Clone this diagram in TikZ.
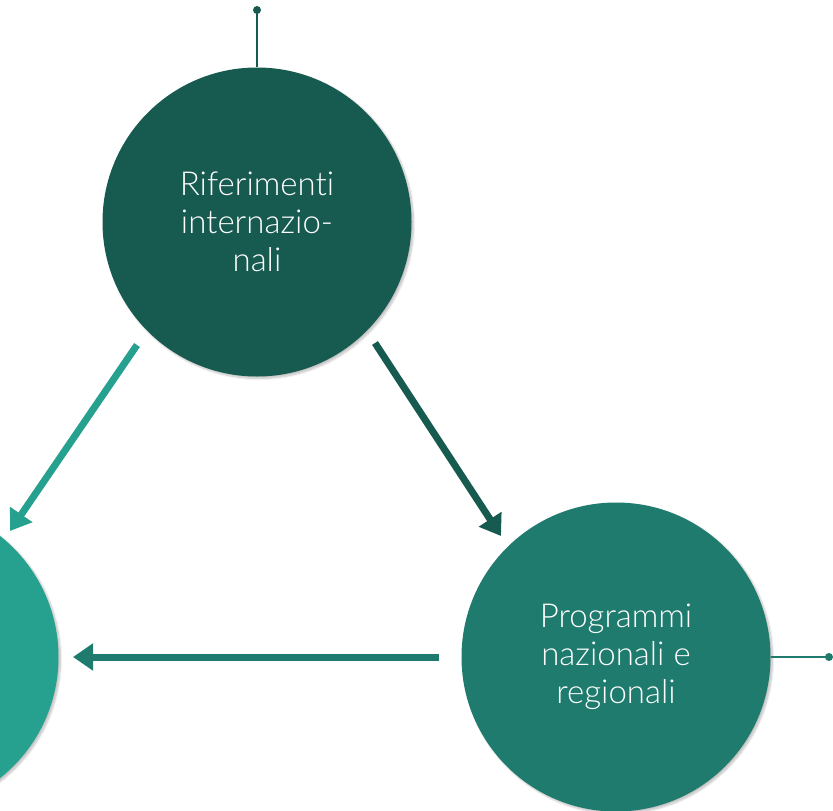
\documentclass[tikz,border=0pt]{standalone}
\usepackage{fontspec}
\setmainfont{Lato}[UprightFont=* Light, Ligatures=NoCommon]
\usetikzlibrary{arrows.meta,shadows.blur}
\definecolor{cdark}{HTML}{175A50}
\definecolor{cmid}{HTML}{1E7B6E}
\definecolor{clight}{HTML}{26A08F}
\tikzset{
  bubble/.style={circle, minimum size=309pt, inner sep=0pt, text=white, align=center,
    font=\fontsize{33}{38}\selectfont, blur shadow={shadow blur steps=8, shadow xshift=2pt, shadow yshift=-2pt, shadow opacity=25}},
  flow/.style={line width=7pt, -{Triangle[length=20pt,width=26pt]}},
  pin/.style={line width=2pt},
  pindot/.style={circle, fill=#1, inner sep=0pt, minimum size=8pt}
}
\begin{document}
\begin{tikzpicture}[x=1pt,y=-1pt]
\useasboundingbox (0,0) rectangle (833,811);
\node[bubble, fill=cdark] (top) at (257,222) {Riferimenti\\internazio-\\nali};
\node[bubble, fill=cmid] (right) at (616,657) {Programmi\\nazionali e\\regionali};
\node[bubble, fill=clight] (left) at (-96,657) {};
\node[pindot=cdark] (tdot) at (257,10) {};
\node[pindot=cmid] (rdot) at (829,657) {};
\draw[pin, cdark] (top.north) -- (tdot.center);
\draw[pin, cmid] (right.east) -- (rdot.center);
\coordinate (a1s) at (137,345);
\coordinate (a1e) at (10,531);
\coordinate (a2s) at (375,343);
\coordinate (a2e) at (501,536);
\coordinate (a3s) at (439,657);
\coordinate (a3e) at (73,657);
\draw[flow, clight] (a1s) -- (a1e);
\draw[flow, cdark] (a2s) -- (a2e);
\draw[flow, cmid] (a3s) -- (a3e);
\end{tikzpicture}
\end{document}
